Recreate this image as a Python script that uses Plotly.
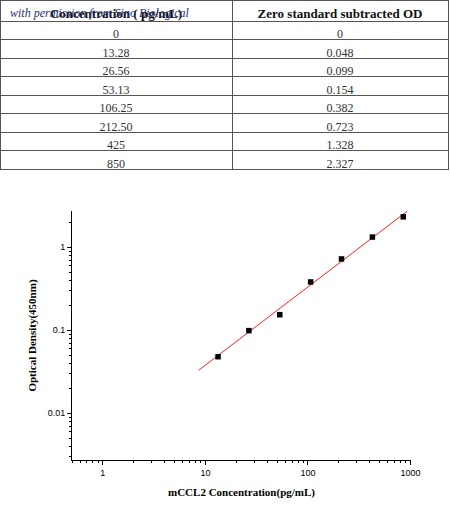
import plotly.graph_objects as go

# standard curve table
conc_labels = ["0", "13.28", "26.56", "53.13", "106.25", "212.50", "425", "850"]
od_labels = ["0", "0.048", "0.099", "0.154", "0.382", "0.723", "1.328", "2.327"]
header_labels = ["Concentration ( pg/mL)", "Zero standard subtracted OD"]

# points on the log-log plot (zero standard left out)
conc = [13.28, 26.56, 53.13, 106.25, 212.50, 425, 850]
od = [0.048, 0.099, 0.154, 0.382, 0.723, 1.328, 2.327]

# fitted line, ends
fit_conc = [8.6, 930]
fit_od = [0.033, 2.72]

W, H = 450, 511
serif = "Liberation Serif"
sans = "Liberation Sans"

fig = go.Figure()

fig.add_trace(go.Table(
    domain=dict(x=[0, 448 / W], y=[1 - 171 / H, 1]),
    columnwidth=[232, 216],
    header=dict(
        values=header_labels,
        height=21,
        align="center",
        fill_color="white",
        line=dict(color="#555555", width=1),
        font=dict(family=serif, size=13, color="#111111", weight="bold"),
    ),
    cells=dict(
        values=[conc_labels, od_labels],
        height=18.5,
        align="center",
        fill_color="white",
        line=dict(color="#555555", width=1),
        font=dict(family=serif, size=12, color="#333333"),
    ),
))

fig.add_trace(go.Scatter(
    x=fit_conc, y=fit_od, mode="lines",
    line=dict(color="#ff2020", width=1),
    showlegend=False, hoverinfo="skip",
))
fig.add_trace(go.Scatter(
    x=conc, y=od, mode="markers",
    marker=dict(symbol="square", size=5.5, color="black"),
    showlegend=False,
))

fig.add_annotation(
    text="<i>with permission from Sino Biological</i>",
    xref="paper", yref="paper", x=8 / W, y=1 - 13 / H,
    xanchor="left", yanchor="middle", showarrow=False,
    font=dict(family=serif, size=12, color="#1f2f70"),
)

axis_common = dict(
    type="log",
    showline=True, linecolor="black", linewidth=1,
    showgrid=False, zeroline=False,
    ticks="outside", ticklen=4, tickcolor="black",
    minor=dict(ticks="outside", ticklen=2, tickcolor="black", dtick="D1", showgrid=False),
    tickfont=dict(family=sans, size=9, color="black"),
    automargin=False,
    dtick=1,
)

fig.update_layout(
    width=W, height=H,
    margin=dict(l=0, r=0, t=0, b=0),
    paper_bgcolor="white", plot_bgcolor="white",
    showlegend=False,
    xaxis=dict(
        axis_common,
        domain=[72 / W, 411 / W],
        range=[-0.301, 3.005],
        title=dict(text="<b>mCCL2 Concentration(pg/mL)</b>",
                   font=dict(family=serif, size=11, color="black"), standoff=11),
    ),
    yaxis=dict(
        axis_common,
        domain=[1 - 460 / H, 1 - 211 / H],
        range=[-2.563, 0.437],
        title=dict(text="<b>Optical Density(450nm)</b>",
                   font=dict(family=serif, size=11, color="black"), standoff=8),
    ),
)

# the page's default body margin would push the figure 8px in
fig.write_html("out.html", config={"displayModeBar": False},
               post_script="document.body.style.margin='0';")
